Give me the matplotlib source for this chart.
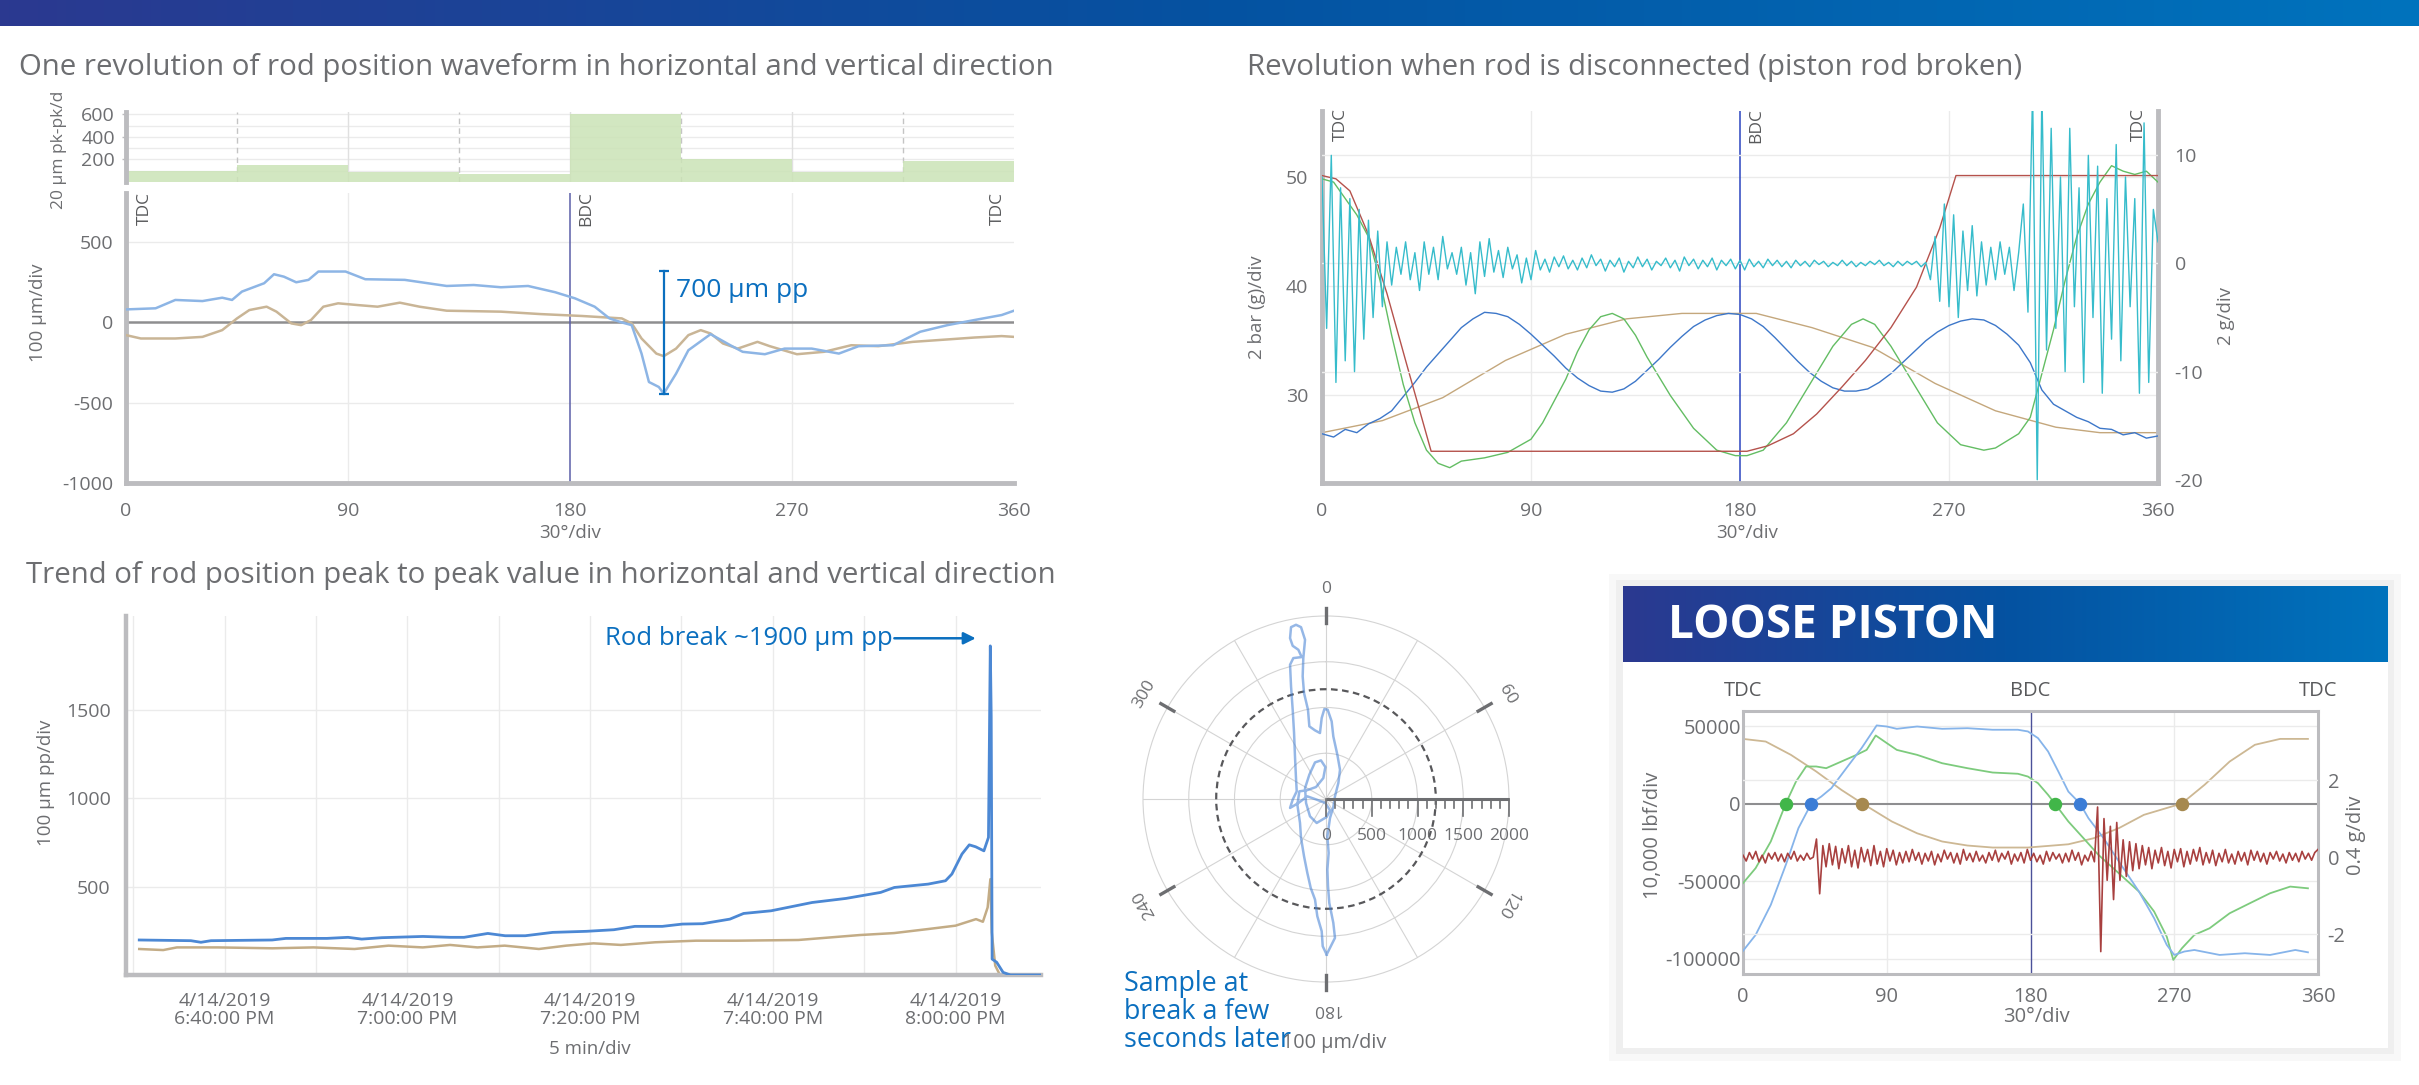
import numpy as np
import matplotlib
matplotlib.use("Agg")
import matplotlib.pyplot as plt
from matplotlib.colors import LinearSegmentedColormap
from matplotlib.patches import Circle, Rectangle

W, H = 2419, 1085
plt.rcParams["font.family"] = ["Open Sans", "DejaVu Sans"]
plt.rcParams["axes.unicode_minus"] = False

TXT = "#6D6E71"
DARK = "#58595B"
SPINE = "#BCBCBF"
GRID = "#EBEBEB"
ZERO = "#8E8E90"
NOTE = "#0B6FBF"
TICK = 14
LABEL = 13.5

# ---- one revolution of rod position (top left) ----
sector_start = [0, 45, 90, 135, 180, 225, 270, 315]
sector_pkpk = [97, 147, 91, 74, 600, 203, 91, 182]

rev_h_deg = [0, 12, 20, 31, 39, 43, 47, 56, 60, 64, 69, 74, 78, 89, 97, 113, 130, 141, 152, 163,
             174, 182, 190, 196, 201, 205, 209, 212, 216, 218, 223, 228, 237, 245, 250, 259, 267,
             278, 289, 297, 311, 322, 333, 344, 355, 360]
rev_h_um = [81, 88, 140, 133, 154, 140, 192, 244, 300, 285, 250, 265, 317, 317, 269, 265, 227, 233,
            219, 227, 188, 150, 98, 25, 0, -17, -194, -371, -402, -444, -319, -173, -73, -142, -183,
            -198, -163, -163, -194, -148, -142, -58, -17, 15, 46, 73]
rev_v_deg = [0, 6, 20, 31, 39, 45, 50, 57, 61, 67, 71, 75, 80, 86, 94, 102, 111, 119, 130, 152,
             168, 185, 201, 205, 209, 215, 218, 223, 228, 233, 237, 242, 248, 256, 261, 272, 283,
             294, 305, 319, 333, 344, 355, 360]
rev_v_um = [-79, -100, -100, -90, -48, 25, 77, 98, 67, -6, -17, 15, 98, 119, 108, 98, 123, 98, 73,
            67, 52, 40, 25, -6, -100, -194, -210, -163, -79, -48, -69, -131, -163, -121, -148, -198,
            -183, -142, -148, -121, -106, -94, -85, -90]
pp_deg, pp_top, pp_bottom = 218, 323, -444

# ---- revolution with rod disconnected (top right) ----
dis_red_deg = [0, 6, 12, 20, 28, 36, 47, 183, 192, 203, 213, 224, 234, 245, 256, 266, 273, 360]
dis_red = [50.1, 49.8, 48.7, 44.7, 39.3, 33.2, 24.9, 24.9, 25.4, 26.5, 28.3, 30.8, 33.2, 36.2,
           39.9, 45.3, 50.1, 50.1]
dis_tan_deg = [0, 26, 52, 79, 105, 131, 155, 187, 211, 237, 264, 290, 316, 335, 360]
dis_tan = [26.6, 27.7, 29.8, 33.2, 35.6, 37.0, 37.5, 37.5, 36.2, 34.4, 31.1, 28.6, 27.1, 26.6, 26.6]
dis_blue = [26.5, 26.2, 26.9, 26.6, 27.4, 27.9, 28.6, 29.9, 31.2, 32.6,
            33.8, 35.0, 36.2, 37.0, 37.6, 37.5, 37.2, 36.5, 35.6, 34.6,
            33.6, 32.5, 31.6, 30.9, 30.4, 30.3, 30.6, 31.3, 32.3, 33.3,
            34.4, 35.4, 36.3, 36.9, 37.3, 37.5, 37.4, 37.0, 36.3, 35.3,
            34.2, 33.1, 32.1, 31.3, 30.7, 30.4, 30.4, 30.6, 31.2, 32.0,
            33.0, 34.0, 35.0, 35.8, 36.4, 36.8, 37.0, 36.9, 36.4, 35.6,
            34.6, 33.0, 30.5, 29.2, 28.6, 28.0, 27.6, 27.0, 26.9, 26.4,
            26.6, 26.1, 26.3]  # every 5 deg
dis_grn_deg = [0, 5, 10, 15, 20, 25, 30, 35, 40, 45, 50, 55, 60, 70, 80, 90, 95, 100, 105, 110,
               115, 120, 125, 130, 135, 140, 150, 160, 170, 178, 183, 190, 200, 210, 220, 228, 233,
               238, 245, 255, 265, 275, 285, 290, 300, 305, 310, 315, 320, 325, 330, 335, 340, 345,
               350, 355, 360]
dis_grn = [49.8, 49.5, 48.0, 46.5, 44.5, 40.5, 35.5, 31.0, 27.5, 25.0, 23.8, 23.4, 24.0, 24.3, 24.8,
           26.0, 27.5, 29.5, 31.5, 34.0, 36.0, 37.2, 37.5, 37.0, 35.5, 33.5, 30.0, 27.0, 25.0, 24.5,
           24.5, 25.0, 27.5, 31.0, 34.5, 36.5, 37.0, 36.5, 34.5, 31.0, 27.5, 25.5, 25.0, 25.2, 26.5,
           28.0, 32.0, 36.0, 40.5, 44.5, 47.5, 49.5, 51.0, 50.5, 50.2, 50.5, 49.5]
dis_cyan_g = [8, -6, 10, -11, 7, -9, 6, -10, 5, -7, 4, -5, 3, -4, 2, -2,
              1.5, -1, 2, -1.5, 1, -2.5, 2, -1, 1.5, -1.5, 2.5, -0.5, 1, -1, 1.5, -2,
              1, -2.8, 2, -1.2, 2.3, -0.8, 1.2, -1.3, 1.5, -0.5, 0.8, -1.8, 0.5, -1.5, 1.2, -0.6,
              0.4, -0.8, 0.6, -0.3, 0.7, -0.5, 0.3, -0.6, 0.5, -0.4,
              0.8, -0.2, 0.4, -0.7, 0.3, -0.3, 0.5, -0.8, 0.2, -0.4,
              0.6, -0.3, 0.4, -0.6, 0.2, -0.2, 0.5, -0.4, 0.3, -0.7,
              0.6, -0.2, 0.4, -0.5, 0.3, -0.3, 0.5, -0.6, 0.3, -0.2,
              0.4, -0.5, 0.3, -0.6, 0.4, -0.3, 0.2, -0.4, 0.4, -0.2,
              0.3, -0.3, 0.2, -0.4, 0.3, -0.2, 0.2, -0.3, 0.3, -0.1,
              0.2, -0.3, 0.1, -0.2, 0.3, -0.2, 0.2, -0.3, 0.1, -0.2,
              0.2, -0.1, 0.3, -0.2, 0.1, -0.3, 0.2, -0.2, 0.2, -0.1,
              0.2, -0.3, 0.1,
              -1.5, 2.5, -3.5, 5.5, -4.0, 4.5, -5.0, 3.0, -2.5, 3.5, -3.0,
              2.0, -2.0, 1.5, -1.5, 2.0, -1.0, 1.5, -2.5, 1.0, 5.5, -4.5,
              16, -20, 16, -8, 12.5, -6, 8, -10, 12.5, -4, 7, -11, 10, -5,
              9, -12, 6, -7, 11, -9, 8, -4, 6, -12, 13, -11, 5, 2]  # every 2 deg

# ---- peak to peak trend (bottom left), minutes after 6:00 PM ----
tr_h_min = [30.65, 36.3, 37.4, 38.5, 45.2, 46.7, 51.2, 53.5, 55, 57.2, 61.7, 64.7, 66.2, 68.8,
            70.7, 72.9, 75.9, 79.6, 82.6, 84.9, 87.9, 90.1, 92.3, 95.3, 96.8, 99.8, 104.3, 108,
            111.8, 113.3, 117, 118.9, 119.6, 120.7, 121.5, 122.2, 123.1, 123.6, 123.8, 123.9,
            124.0, 124.5, 125.2, 126, 129.3]
tr_h_um = [198, 194, 185, 194, 198, 207, 207, 213, 203, 211, 218, 213, 213, 235, 222, 222, 241,
           247, 256, 275, 275, 288, 290, 316, 348, 363, 410, 433, 467, 495, 514, 533, 571, 684,
           736, 725, 702, 778, 1861, 1465, 90, 72, 15, 0, 0]
tr_v_min = [30.65, 33.27, 34.77, 39.25, 45.23, 49.72, 54.21, 57.94, 61.68, 64.67, 67.66, 70.65,
            74.39, 77.38, 80.37, 83.36, 87.1, 91.59, 96.07, 102.8, 109.53, 113.27, 117.01, 120.0,
            122.24, 122.99, 123.51, 123.81, 123.96, 124.34, 124.86, 129.3]
tr_v_um = [147, 141, 156, 156, 151, 156, 147, 166, 156, 170, 156, 166, 147, 166, 179, 170, 185,
           194, 194, 198, 226, 237, 260, 279, 316, 301, 382, 542, 241, 53, 0, 0]
tr_ticks = [40, 60, 80, 100, 120]
tr_labels = ["4/14/2019\n6:40:00 PM", "4/14/2019\n7:00:00 PM", "4/14/2019\n7:20:00 PM",
             "4/14/2019\n7:40:00 PM", "4/14/2019\n8:00:00 PM"]
break_um = 1904

# ---- orbit a few seconds after the break (um) ----
orbit_x = [7, 98, 80, 36, 22, 15, 29, 15, 44, 80, 98, 135, 153, 124, 80, 62, 18, -18, -47, -66,
           -120, -182, -197, -240, -255, -248, -229, -273, -328, -382, -393, -364, -302, -266,
           -357, -393, -382, -364, -349, -339, -328, -320, -364, -393, -302, -204, -102, -7, 44,
           7, -102, -175, -218, -229, -182, -120, -55, -7, -29, -109, -211, -291, -313, -284,
           -273, -240, -204, -167, -120, -95, -47, -36, 7]
orbit_y = [-1700, -1518, -1354, -1136, -954, -772, -590, -408, -207, -87, 29, 175, 320, 484, 684,
           848, 976, 983, 885, 721, 750, 794, 976, 1158, 1340, 1540, 1740, 1878, 1904, 1878, 1758,
           1674, 1631, 1551, 1540, 1467, 1230, 976, 721, 466, 229, 84, -7, -98, -44, 29, -7, -44,
           -124, -197, -262, -189, -44, 120, 266, 400, 422, 349, 229, 131, 95, 84, -62, -262,
           -426, -626, -808, -972, -1099, -1281, -1445, -1609, -1700]
orbit_ring = 1200

# ---- loose piston (bottom right) ----
lp_blue_deg = [0, 7.9, 17.4, 26.8, 34.7, 41, 42.6, 49, 55.3, 64.7, 74.2, 80.5, 83.7, 90, 96.3,
               109, 124.7, 140.5, 156.3, 172.1, 178.4, 184.7, 191, 197.4, 203.7, 211, 216.3,
               225.8, 235.3, 247.9, 257.4, 265.3, 270, 276.3, 282.6, 298.4, 314.2, 330, 345.8, 353.7]
lp_blue = [-95100, -84800, -65400, -39600, -15900, -3500, 0, 4500, 9900, 22800, 35700, 45400,
           50400, 49700, 48200, 49700, 48200, 48600, 47600, 47600, 46500, 42200, 33600, 20700,
           7700, 0, -9500, -22400, -37400, -56800, -74000, -91200, -97700, -95500, -94500,
           -97700, -96600, -97700, -94500, -96000]
lp_grn_deg = [0, 7.9, 17.4, 26.8, 33.2, 39.5, 45.8, 52.1, 61.6, 71.1, 77.4, 83.1, 90, 96.3, 109,
              124.7, 140.5, 156.3, 172.1, 178.4, 184.7, 191, 195.2, 203.7, 213.2, 222.6, 235.3,
              247.9, 257.4, 265.3, 269.4, 274.8, 282.6, 292.1, 304.7, 317.4, 330, 342.6, 353.7]
lp_grn = [-51400, -41700, -24500, 0, 14200, 23900, 23900, 22800, 27100, 31400, 34600, 43900,
          39000, 34600, 31400, 26000, 22800, 20000, 19200, 17400, 13100, 5600, 0, -11600, -22400,
          -33200, -45000, -56800, -69700, -85900, -100900, -93400, -84800, -80500, -70800,
          -64300, -57900, -53600, -54700]
lp_tan_deg = [0, 14.2, 30, 45.8, 61.6, 74.8, 93.2, 109, 124.7, 140.5, 156.3, 178.4, 203.7, 219.5,
              235.3, 251, 274.7, 289, 304.7, 320.5, 336.3, 353.7]
lp_tan = [41700, 40000, 31400, 20700, 8800, 0, -11600, -19200, -24500, -27100, -28400, -28400,
          -26300, -22400, -15900, -7300, 0, 12100, 27100, 37900, 41700, 41700]
lp_zero_grn = [26.8, 195.2]
lp_zero_blue = [42.6, 211.0]
lp_zero_tan = [74.8, 274.7]
lp_red_g = [0.05, -0.10, 0.12, -0.05, 0.15, -0.12, 0.05, -0.15, 0.10, -0.05, 0.12, -0.10,
            0.08, -0.12, 0.10, -0.05, 0.15, -0.10, 0.05, -0.08, 0.10, -0.05, 0.00,
            0.47, -0.95, 0.30, -0.25, 0.35, -0.20, 0.28, -0.30, 0.22, -0.15, 0.30, -0.25, 0.18,
            -0.28, 0.25, -0.12, 0.20, -0.22, 0.30, -0.18, 0.15, -0.25, 0.22, -0.10, 0.18, -0.20,
            0.12, -0.15,
            0.15, -0.12, 0.20, -0.08, 0.12, -0.18, 0.10, -0.10, 0.15, -0.20, 0.08, -0.12, 0.18,
            -0.05, 0.12, -0.15, 0.10, -0.18, 0.20, -0.08, 0.10, -0.12, 0.15, -0.10, 0.05, -0.15,
            0.12, -0.08, 0.18, -0.12, 0.10, -0.05, 0.15, -0.18, 0.08, -0.10, 0.12, -0.15, 0.20,
            -0.08, 0.10, -0.12, 0.05, -0.18, 0.15, -0.10, 0.12, -0.05, 0.08, -0.15, 0.10, -0.12,
            0.18, -0.08, 0.12, -0.20, 0.05, -0.10, 0.15, -0.12,
            1.30, -2.45, 1.00, -0.60, 0.80, -1.10, 0.90, -0.60, 0.45, -0.50, 0.40, -0.35, 0.35,
            -0.30, 0.30,
            -0.20, 0.25, -0.30, 0.18, -0.15, 0.25, -0.22, 0.15, -0.28, 0.20, -0.12, 0.22, -0.25,
            0.15, -0.18, 0.20, -0.10, 0.25, -0.20, 0.12, -0.15, 0.18, -0.22, 0.10, -0.12, 0.20,
            -0.15, 0.08, -0.18, 0.15, -0.10, 0.12, -0.20, 0.18, -0.08, 0.15, -0.12, 0.10, -0.18,
            0.12, -0.05, 0.15, -0.10, 0.08, -0.15, 0.12, -0.08, 0.10, -0.12, 0.15, -0.05, 0.10,
            -0.08, 0.12, 0.20]  # every 2 deg

fig = plt.figure(figsize=(W / 100, H / 100), dpi=100)


def rect(x0, y0, x1, y1):
    return [x0 / W, 1 - y1 / H, (x1 - x0) / W, (y1 - y0) / H]


def ftext(x, y, s, **kw):
    kw.setdefault("color", TXT)
    kw.setdefault("ha", "center")
    kw.setdefault("va", "center")
    return fig.text(x / W, 1 - y / H, s, **kw)


def fig_box(x0, y0, x1, y1, color, z):
    fig.add_artist(Rectangle((x0 / W, 1 - y1 / H), (x1 - x0) / W, (y1 - y0) / H,
                             transform=fig.transFigure, facecolor=color, edgecolor="none", zorder=z))


def band(r):
    ax = fig.add_axes(r)
    cmap = LinearSegmentedColormap.from_list("band", ["#2B3990", "#0552A1", "#0073BD"])
    ax.imshow(np.linspace(0, 1, 256)[None, :], aspect="auto", cmap=cmap, extent=[0, 1, 0, 1])
    ax.set_axis_off()
    return ax


def style(ax, spines=("left", "bottom"), lw=3.5, size=TICK):
    for k, sp in ax.spines.items():
        if k in spines:
            sp.set_color(SPINE)
            sp.set_linewidth(lw)
        else:
            sp.set_visible(False)
    ax.tick_params(length=0, labelsize=size, labelcolor=TXT)


def phase_marks(ax, dx=(8, 7, -7), dy=1):
    for x, s, ha, off in [(0, "TDC", "left", dx[0]), (180, "BDC", "left", dx[1]),
                          (360, "TDC", "right", dx[2])]:
        ax.annotate(s, xy=(x, 1), xycoords=("data", "axes fraction"), xytext=(off, dy),
                    textcoords="offset points", rotation=90, ha=ha, va="top",
                    fontsize=12.5, color=DARK)


# header bar
band(rect(0, 0, W, 26))

# ---------- top left ----------
ftext(19, 68, "One revolution of rod position waveform in horizontal and vertical direction",
      ha="left", fontsize=21.2)

ax_bar = fig.add_axes(rect(126, 112, 1014, 182))
ax_bar.bar(sector_start, sector_pkpk, width=45, align="edge", color="#CBE3B6", alpha=0.85,
           edgecolor="none", zorder=2)
ax_bar.set_xlim(0, 360)
ax_bar.set_ylim(0, 620)
ax_bar.set_xticks([])
ax_bar.set_yticks([200, 400, 600])
for y in range(100, 700, 100):
    ax_bar.axhline(y, color=GRID, lw=1, zorder=1)
for x in [45, 135, 225, 315]:
    ax_bar.axvline(x, color="#C4C4C4", lw=1, ls=(0, (4, 3)), zorder=1)
for x in [90, 180, 270]:
    ax_bar.axvline(x, color="#E0E0E0", lw=1, zorder=1)
style(ax_bar, spines=("left",))
ax_bar.tick_params(axis="y", length=3, width=1, color=SPINE, pad=5)
ftext(59, 150, "20 μm pk-pk/d", rotation=90, fontsize=12.5)

ax_rev = fig.add_axes(rect(126, 193, 1014, 483))
ax_rev.set_xlim(0, 360)
ax_rev.set_ylim(-1000, 806)
ax_rev.set_xticks(range(0, 361, 90))
ax_rev.set_yticks([-1000, -500, 0, 500])
for y in [-500, 500]:
    ax_rev.axhline(y, color=GRID, lw=1, zorder=0)
for x in [90, 270]:
    ax_rev.axvline(x, color=GRID, lw=1, zorder=0)
ax_rev.axhline(0, color=ZERO, lw=1.8, zorder=1)
ax_rev.axvline(180, color="#5B5FA8", lw=1.1, zorder=1)
ax_rev.plot(rev_v_deg, rev_v_um, color="#C9B596", lw=1.8, zorder=3)
ax_rev.plot(rev_h_deg, rev_h_um, color="#8DB5E5", lw=1.8, zorder=4)
ax_rev.plot([pp_deg, pp_deg], [pp_top, pp_bottom], color=NOTE, lw=1.6, marker="_", ms=7,
            mew=1.6, zorder=5)
ax_rev.text(pp_deg + 5, 200, "700 μm pp", color=NOTE, fontsize=19, ha="left", va="center")
style(ax_rev)
ax_rev.tick_params(axis="x", pad=14)
ax_rev.tick_params(axis="y", pad=9)
phase_marks(ax_rev, dx=(8, 6, -6), dy=1)
ftext(38, 313, "100 μm/div", rotation=90, fontsize=LABEL)
ftext(570, 533, "30°/div", fontsize=LABEL)

# ---------- top right ----------
ftext(1247, 68, "Revolution when rod is disconnected (piston rod broken)", ha="left", fontsize=21.2)
ax_dis = fig.add_axes(rect(1322, 111, 2158, 483))
ax_dis.set_xlim(0, 360)
ax_dis.set_ylim(22, 56)
ax_dis.set_xticks(range(0, 361, 90))
ax_dis.set_yticks([30, 40, 50])
for y in [30, 40, 50]:
    ax_dis.axhline(y, color=GRID, lw=1, zorder=0)
for x in [90, 270]:
    ax_dis.axvline(x, color=GRID, lw=1, zorder=0)
ax_dis.axvline(180, color="#2B45C0", lw=1.1, zorder=1)
ax_dis.plot(dis_tan_deg, dis_tan, color="#C4A77C", lw=1.0, zorder=2)
ax_dis.plot(np.arange(len(dis_blue)) * 5, dis_blue, color="#3D77C9", lw=1.0, zorder=3)
ax_dis.plot(dis_grn_deg, dis_grn, color="#63BD63", lw=1.0, zorder=3)
ax_dis.plot(dis_red_deg, dis_red, color="#B5524C", lw=1.0, zorder=4)
style(ax_dis, spines=("left", "bottom", "right"))
ax_dis.tick_params(axis="x", pad=14)
ax_dis.tick_params(axis="y", pad=10)

ax_g = ax_dis.twinx()
ax_g.set_ylim(-20.3, 14.1)
ax_g.set_yticks([-20, -10, 0, 10])
for y in [-10, 0, 10]:
    ax_g.axhline(y, color=GRID, lw=1, zorder=0)
ax_g.plot(np.arange(len(dis_cyan_g)) * 2, dis_cyan_g, color="#36BCCB", lw=1.0, zorder=2)
for sp in ax_g.spines.values():
    sp.set_visible(False)
ax_g.tick_params(axis="y", length=0, labelsize=TICK, labelcolor=TXT, pad=12)
phase_marks(ax_dis, dx=(8, 6, -8), dy=2)
ftext(1257, 307, "2 bar (g)/div", rotation=90, fontsize=LABEL)
ftext(2226, 316, "2 g/div", rotation=90, fontsize=LABEL)
ftext(1747, 533, "30°/div", fontsize=LABEL)

# ---------- bottom left ----------
ftext(26, 575, "Trend of rod position peak to peak value in horizontal and vertical direction",
      ha="left", fontsize=21.2)
ax_tr = fig.add_axes(rect(126, 616, 1041, 975))
ax_tr.set_xlim(29.2, 129.35)
ax_tr.set_ylim(0, 2030)
for x in range(30, 121, 10):
    ax_tr.axvline(x, color=GRID, lw=1, zorder=0)
for y in [500, 1000, 1500]:
    ax_tr.axhline(y, color=GRID, lw=1, zorder=0)
ax_tr.plot(tr_v_min, tr_v_um, color="#C3AC86", lw=1.8, zorder=2)
ax_tr.plot(tr_h_min, tr_h_um, color="#4C88D4", lw=2.0, zorder=3)
ax_tr.set_xticks(tr_ticks)
ax_tr.set_xticklabels(tr_labels, linespacing=1.05)
ax_tr.set_yticks([500, 1000, 1500])
style(ax_tr, lw=3.2)
ax_tr.tick_params(axis="x", pad=12)
ax_tr.tick_params(axis="y", pad=11)
ax_tr.annotate("", xy=(122.2, break_um), xytext=(113.3, break_um),
               arrowprops=dict(arrowstyle="-|>", color=NOTE, lw=1.8, mutation_scale=18,
                               shrinkA=0, shrinkB=0))
ax_tr.text(113.1, break_um, "Rod break ~1900 μm pp", color=NOTE, fontsize=18.5,
           ha="right", va="center")
ftext(46, 783, "100 μm pp/div", rotation=90, fontsize=LABEL)
ftext(590, 1049, "5 min/div", fontsize=LABEL)

# ---------- orbit ----------
pol_rect = rect(1143, 616, 1509, 982)
ax_pol = fig.add_axes(pol_rect, projection="polar")
ax_pol.set_theta_zero_location("N")
ax_pol.set_theta_direction(-1)
ax_pol.set_rlim(0, 2000)
ax_pol.set_rticks([500, 1000, 1500])
ax_pol.set_yticklabels([])
ax_pol.set_xticks(np.deg2rad(np.arange(0, 360, 30)))
ax_pol.set_xticklabels([])
ax_pol.grid(color="#D4D4D4", lw=0.8)
ax_pol.spines["polar"].set_color("#D4D4D4")
ax_pol.spines["polar"].set_linewidth(0.8)
ax_pol.tick_params(length=0)

ax_orb = fig.add_axes(pol_rect)
ax_orb.set_xlim(-2000, 2000)
ax_orb.set_ylim(-2000, 2000)
ax_orb.set_aspect("equal")
ax_orb.set_axis_off()
ax_orb.add_patch(Circle((0, 0), orbit_ring, fill=False, ec="#58585B", lw=1.6, ls=(0, (3, 2))))
ax_orb.plot(orbit_x, orbit_y, color="#3F7DD3", lw=1.8, alpha=0.55, solid_joinstyle="round")
ax_orb.plot([0, 2000], [0, 0], color=TXT, lw=2.2, solid_capstyle="butt", clip_on=False)
for r in range(0, 2001, 100):
    major = r % 500 == 0
    ax_orb.plot([r, r], [0, -190 if major else -98], color=TXT, lw=1.2, clip_on=False)
    if major:
        ax_orb.text(r, -407, str(r), ha="center", va="center", fontsize=12.5, color=TXT)
for a in range(0, 360, 60):
    t = np.deg2rad(a)
    ax_orb.plot([1920 * np.sin(t), 2084 * np.sin(t)], [1920 * np.cos(t), 2084 * np.cos(t)],
                color=TXT, lw=2.4, clip_on=False)
    ax_orb.text(2290 * np.sin(t), 2290 * np.cos(t), str(a), rotation=-a, rotation_mode="anchor",
                ha="center", va="center", fontsize=12.5, color=TXT, clip_on=False)
ftext(1334, 1043, "100 μm/div", fontsize=14.3)
ftext(1124, 1012, "Sample at\nbreak a few\nseconds later", ha="left", color=NOTE,
      fontsize=19.4, linespacing=1.0)

# ---------- loose piston card ----------
fig_box(1609, 574, 2401, 1061, "#F8F8F8", -3)
fig_box(1616, 580, 2394, 1054, "#EFEFEF", -2)
fig_box(1623, 586, 2388, 1048, "white", -1)
band(rect(1623, 586, 2388, 662))
ftext(1668, 625, "LOOSE PISTON", ha="left", color="white", fontsize=33, fontweight="bold")

ax_lp = fig.add_axes(rect(1743, 711, 2318, 974))
ax_lp.set_xlim(0, 360)
ax_lp.set_ylim(-110000, 59700)
ax_lp.set_xticks(range(0, 361, 90))
ax_lp.set_yticks([-100000, -50000, 0, 50000])
for y in [-100000, -50000, 50000]:
    ax_lp.axhline(y, color=GRID, lw=1, zorder=0)
for x in [90, 270]:
    ax_lp.axvline(x, color=GRID, lw=1, zorder=0)
ax_lp.axhline(0, color=ZERO, lw=1.5, zorder=1)
ax_lp.axvline(180, color="#4B5199", lw=1.0, zorder=1)
ax_lp.plot(lp_tan_deg, lp_tan, color="#CDB894", lw=1.3, zorder=2)
ax_lp.plot(lp_grn_deg, lp_grn, color="#7DCB7D", lw=1.3, zorder=3)
ax_lp.plot(lp_blue_deg, lp_blue, color="#86B4EA", lw=1.3, zorder=3)
ax_lp.scatter(lp_zero_grn, [0] * len(lp_zero_grn), s=75, color="#41B649", zorder=5)
ax_lp.scatter(lp_zero_blue, [0] * len(lp_zero_blue), s=75, color="#3C7DD6", zorder=5)
ax_lp.scatter(lp_zero_tan, [0] * len(lp_zero_tan), s=75, color="#A6894F", zorder=5)
style(ax_lp, spines=("left", "bottom", "right", "top"), lw=2.2, size=14.5)
ax_lp.tick_params(axis="x", pad=9)
ax_lp.tick_params(axis="y", pad=1.5)

ax_lg = ax_lp.twinx()
ax_lg.set_ylim(-3.03, 3.79)
ax_lg.set_yticks([-2, 0, 2])
for y in [-2, 2]:
    ax_lg.axhline(y, color=GRID, lw=1, zorder=0)
ax_lg.plot(np.arange(len(lp_red_g)) * 2, lp_red_g, color="#A8403F", lw=1.2, zorder=2)
for sp in ax_lg.spines.values():
    sp.set_visible(False)
ax_lg.tick_params(axis="y", length=0, labelsize=14.5, labelcolor=TXT, pad=7)
for x, s in [(0, "TDC"), (180, "BDC"), (360, "TDC")]:
    ax_lp.annotate(s, xy=(x, 1), xycoords=("data", "axes fraction"), xytext=(0, 7),
                   textcoords="offset points", ha="center", va="bottom", fontsize=14.5, color=DARK)
ftext(1653, 835, "10,000 lbf/div", rotation=90, fontsize=14.5)
ftext(2356, 835, "0.4 g/div", rotation=90, fontsize=14.5)
ftext(2036, 1017, "30°/div", fontsize=14.5)

fig.savefig("out.png", dpi=100)
